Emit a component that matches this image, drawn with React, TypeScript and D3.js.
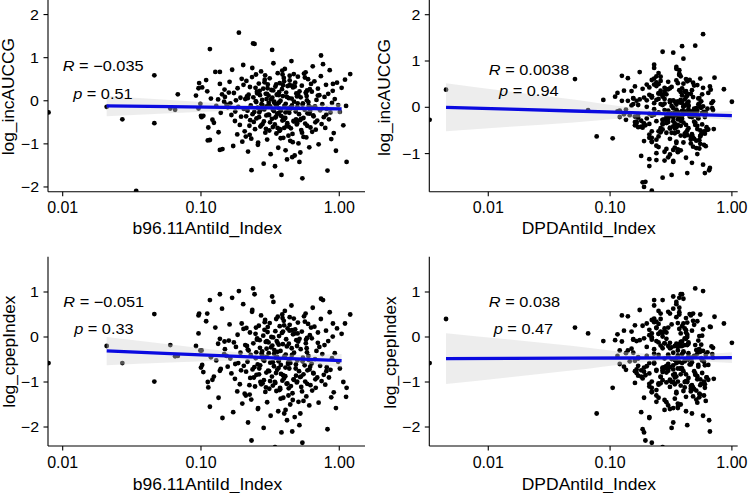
import * as d3 from 'd3'

// per-subject values; the first rows are the outlying subjects
const b96Index = [
  0.0079, 0.0208, 0.027, 0.034, 0.046, 0.046, 0.06, 0.065, 0.068, 0.35,
  0.25, 0.4, 0.3, 0.5, 1.2, 1.13, 1.12, 0.7, 0.9, 0.116,
  0.112, 0.137, 0.137, 0.097, 0.096, 0.1, 0.101,
  0.092, 0.104, 0.109, 0.113, 0.118, 0.096, 0.102, 0.116, 0.099, 0.111,
  0.121, 0.127, 0.129, 0.133, 0.134, 0.137, 0.139, 0.142, 0.143, 0.147,
  0.148, 0.124, 0.331, 0.438, 0.345, 0.149, 0.551, 0.455, 0.156, 0.358,
  0.161, 0.163, 0.166, 0.168, 0.171, 0.173, 0.176, 0.177, 0.179, 0.183,
  0.184, 0.186, 0.188, 0.191, 0.193, 0.195, 0.197, 0.199, 0.153, 0.159,
  0.364, 0.469, 0.374, 0.581, 0.487, 0.392, 0.457, 0.367, 0.585, 0.496,
  0.202, 0.204, 0.207, 0.209, 0.212, 0.213, 0.217, 0.219, 0.221, 0.224,
  0.226, 0.229, 0.231, 0.234, 0.236, 0.239, 0.241, 0.244, 0.246, 0.249,
  0.252, 0.254, 0.257, 0.259, 0.262, 0.264, 0.267, 0.269, 0.272, 0.274,
  0.277, 0.279, 0.282, 0.284, 0.287, 0.289, 0.292, 0.294, 0.297, 0.299,
  0.203, 0.211, 0.218, 0.227, 0.235, 0.243, 0.251, 0.258, 0.266, 0.273,
  0.281, 0.288, 0.295, 0.215, 0.232, 0.248, 0.263, 0.278, 0.291, 0.225,
  0.255, 0.285, 0.238, 0.268, 0.298,
  0.301, 0.304, 0.306, 0.309, 0.312, 0.314, 0.317, 0.319, 0.323, 0.326,
  0.328, 0.331, 0.334, 0.337, 0.339, 0.342, 0.345, 0.347, 0.351, 0.353,
  0.356, 0.359, 0.362, 0.364, 0.367, 0.371, 0.373, 0.376, 0.379, 0.382,
  0.385, 0.388, 0.391, 0.394, 0.397, 0.401, 0.404, 0.407, 0.41, 0.413,
  0.416, 0.419, 0.423, 0.426, 0.429, 0.432, 0.435, 0.438, 0.442, 0.445,
  0.303, 0.316, 0.327, 0.338, 0.349, 0.358, 0.369, 0.378, 0.389, 0.398,
  0.409, 0.418, 0.428, 0.437, 0.447, 0.311, 0.333, 0.355, 0.377, 0.399,
  0.421, 0.443, 0.321, 0.343, 0.365, 0.387, 0.408, 0.431, 0.308, 0.392,
  0.451, 0.455, 0.459, 0.463, 0.467, 0.471, 0.476, 0.48, 0.484, 0.489,
  0.493, 0.498, 0.502, 0.507, 0.512, 0.516, 0.521, 0.526, 0.531, 0.536,
  0.541, 0.546, 0.551, 0.556, 0.562, 0.567, 0.573, 0.578, 0.584, 0.589,
  0.595, 0.601, 0.607, 0.613, 0.619, 0.625, 0.631, 0.637, 0.643, 0.648,
  0.453, 0.469, 0.486, 0.505, 0.523, 0.543, 0.564, 0.586, 0.609, 0.633,
  0.461, 0.495, 0.529, 0.571, 0.616, 0.477, 0.538, 0.598, 0.515, 0.575,
  0.652, 0.661, 0.668, 0.676, 0.684, 0.693, 0.701, 0.709, 0.718, 0.727,
  0.736, 0.745, 0.754, 0.763, 0.773, 0.782, 0.792, 0.802, 0.812, 0.822,
  0.832, 0.842, 0.853, 0.864, 0.875, 0.886, 0.897, 0.672, 0.738, 0.806,
  0.912, 0.928, 0.946, 0.963, 0.982, 1.01, 1.04, 1.07, 1.1,
]

const dpdIndex = [
  0.0033, 0.3, 0.35, 0.25, 0.45, 0.22, 0.5, 0.3, 0.2, 0.0045,
  0.0515, 0.0776, 0.088, 0.066, 0.55, 0.6, 0.42, 1.0, 0.86, 0.27,
  0.33, 0.38, 0.24, 0.31, 0.46, 0.19, 0.36,
  0.34, 0.27, 0.52, 0.41, 0.17, 0.22, 0.64, 0.36, 0.12, 0.48,
  0.31, 0.24, 0.57, 0.44, 0.19, 0.29, 0.38, 0.33, 0.21, 0.69,
  0.39, 0.26, 0.47, 0.35, 0.16, 0.23, 0.61, 0.42, 0.13, 0.55,
  0.32, 0.28, 0.5, 0.37, 0.18, 0.25, 0.71, 0.3, 0.2, 0.46,
  0.43, 0.21, 0.58, 0.34, 0.155, 0.27, 0.4, 0.36, 0.115, 0.53,
  0.38, 0.23, 0.49, 0.31, 0.17, 0.26, 0.66, 0.44, 0.22, 0.59,
  0.35, 0.29, 0.54, 0.41, 0.19, 0.24, 0.37, 0.33, 0.14, 0.47,
  0.42, 0.25, 0.51, 0.3, 0.165, 0.28, 0.62, 0.39, 0.21, 0.56,
  0.33, 0.22, 0.46, 0.36, 0.185, 0.27, 0.7, 0.43, 0.125, 0.52,
  0.4, 0.26, 0.57, 0.32, 0.16, 0.23, 0.35, 0.38, 0.29, 0.49,
  0.37, 0.24, 0.53, 0.44, 0.175, 0.28, 0.63, 0.31, 0.11, 0.6,
  0.34, 0.21, 0.48, 0.39, 0.195, 0.25, 0.42, 0.36, 0.22, 0.55,
  0.41, 0.27, 0.5, 0.33, 0.15, 0.29, 0.67, 0.3, 0.135, 0.46,
  0.36, 0.23, 0.58, 0.43, 0.18, 0.26, 0.38, 0.35, 0.2, 0.51,
  0.32, 0.28, 0.47, 0.4, 0.165, 0.24, 0.72, 0.42, 0.145, 0.54,
  0.39, 0.22, 0.55, 0.34, 0.19, 0.27, 0.31, 0.37, 0.25, 0.48,
  0.44, 0.25, 0.52, 0.3, 0.155, 0.21, 0.65, 0.41, 0.12, 0.59,
  0.35, 0.29, 0.49, 0.38, 0.17, 0.26, 0.43, 0.33, 0.23, 0.57,
  0.31, 0.24, 0.53, 0.42, 0.185, 0.28, 0.68, 0.36, 0.13, 0.46,
  0.4, 0.22, 0.5, 0.34, 0.16, 0.25, 0.39, 0.32, 0.27, 0.56,
  0.37, 0.27, 0.47, 0.44, 0.195, 0.23, 0.61, 0.35, 0.115, 0.52,
  0.33, 0.21, 0.58, 0.39, 0.175, 0.29, 0.41, 0.43, 0.24, 0.49,
  0.42, 0.26, 0.54, 0.31, 0.15, 0.22, 0.7, 0.38, 0.14, 0.6,
  0.36, 0.28, 0.48, 0.4, 0.18, 0.25, 0.34, 0.3, 0.21, 0.55,
  0.3, 0.23, 0.51, 0.37, 0.165, 0.27, 0.64, 0.45, 0.125, 0.47,
  0.41, 0.24, 0.56, 0.33, 0.19, 0.28, 0.38, 0.35, 0.26, 0.53,
  0.38, 0.22, 0.49, 0.43, 0.155, 0.21, 0.66, 0.32, 0.105, 0.58,
  0.34, 0.29, 0.52, 0.36, 0.17, 0.26, 0.42, 0.39, 0.23, 0.5,
  0.43, 0.25, 0.47, 0.31, 0.185, 0.24, 0.62, 0.37, 0.135, 0.54,
  0.35, 0.27, 0.55, 0.4, 0.16, 0.22, 0.44, 0.33, 0.28, 0.59,
  0.36, 0.25, 0.41, 0.2,
]

const logIncAUCCG = [
  -0.27, -0.14, -0.43, -2.09, 0.59, -0.52, -0.18, -0.21, 0.15, 0.38,
  0.61, -0.63, 0.16, -0.06, 0.62, -1.42, -0.12, 0.12, 0.39, 1.2,
  -0.92, 0.67, -1.14, 0.41, 0.29, -0.35, -0.38,
  0.12, -0.35, 0.48, -0.62, 0.05, -0.18, 0.31, -0.91, -0.07, 0.22,
  -0.44, 0.67, -0.12, 0.03, -0.73, 0.39, -0.28, 0.15, -1.12, -0.02,
  0.26, -0.51, -0.21, 0.58, -0.39, 0.09, -0.84, 0.35, -0.15, -0.63,
  0.44, -0.06, -0.33, 0.72, -1.05, 0.18, -0.47, -0.25, 0.01, -0.78,
  0.29, -0.14, 1.58, -0.56, 0.07, -0.37, 0.51, -0.95, -0.09, 0.19,
  -0.29, 0.62, -0.68, 0.11, -0.43, 0.36, -1.31, -0.04, 0.24, -0.52,
  0.83, -0.19, -0.71, 0.04, -0.36, 0.46, -0.23, -1.18, 0.14, -0.58,
  0.32, -0.11, -0.88, 0.55, -0.31, 0.08, -0.49, 1.32, -0.66, -0.01,
  -0.41, 0.21, -0.16, -0.97, 0.4, -0.27, 0.13, -0.6, 0.68, -0.08,
  0.02, -0.54, 0.28, -1.46, -0.2, 0.49, -0.74, 0.16, -0.34, -0.13,
  0.37, -0.83, 0.06, -0.45, 0.76, -0.26, -0.03, -1.02, 0.23, -0.57,
  -0.17, 0.43, -0.65, 0.1, -1.61, 0.3, -0.38, -0.1, 0.59, -0.79,
  0.17, -0.48, 1.33, -0.22, 0.04, -0.9, 0.38, -0.32, -0.05, -0.69,
  0.52, -0.13, -1.24, 0.25, -0.42, 0.07, -0.61, 0.87, -0.24, -0.02,
  -0.55, 0.33, -0.09, -0.76, 0.14, -0.3, 0.64, -1.09, -0.17, 0.2,
  0.41, -0.66, 0.0, -0.35, -1.72, 0.27, -0.46, 0.11, -0.86, 0.53,
  -0.12, 0.74, -0.4, -0.07, 0.19, -0.59, -1.36, 0.34, -0.21, -0.81,
  0.06, -0.28, 0.47, -0.93, -0.15, 0.29, -0.5, 1.18, -0.04, -0.37,
  0.15, -0.7, -0.23, 0.61, -0.44, -1.15, 0.09, -0.18, 0.36, -0.64,
  -0.33, 0.24, -0.08, -0.87, 0.45, -0.52, -0.19, 0.03, -1.52, 0.13,
  0.7, -0.27, -0.6, 0.12, -0.39, 0.92, -0.11, -0.77, 0.31, -0.47,
  -0.02, -1.27, 0.42, -0.25, 0.17, -0.55, -0.14, 0.56, -0.99, -0.31,
  0.22, -0.45, 0.08, -0.68, 0.35, -1.8, -0.06, -0.4, 0.63, -0.21,
  -0.53, 0.18, -0.85, 0.01, -0.29, 0.5, -0.12, -1.08, 0.27, -0.62,
  0.39, -0.16, -0.72, 0.8, -0.34, 0.05, -0.48, -0.2, 0.14, -1.2,
  -0.09, 0.54, -0.58, -0.3, 0.21, -0.96, 0.1, -0.42, 0.66, -0.24,
  0.33, -0.74, -0.03, -1.42, 0.2, -0.36, 0.45, -0.13, -0.67, 0.02,
  -0.46, 0.28, -1.01, 0.13, -0.22, 0.57, -0.54, -0.08, 0.85, -0.38,
  0.09, -0.63, 0.37, -0.19, -1.62, 0.16, -0.43, 0.71, -0.27, -0.89,
  -0.05, 0.23, -0.5, 1.05, -0.32, -0.75, 0.04, -1.16, 0.42, -0.1,
  -0.26, 0.3, -0.57, 0.49,
]

const logCpepIndex = [
  -0.58, -0.2, -0.58, -2.6, 0.51, -0.99, -0.18, -0.43, -0.42, 0.4,
  0.21, -1.7, -0.09, 0.08, 0.5, -1.13, -1.33, -0.13, 0.3, 0.82,
  -1.0, 0.95, -0.75, 0.52, 0.48, -0.68, -0.3,
  -0.2, -0.78, 0.35, -1.12, -0.45, 0.08, -0.62, -1.55, -0.3, 0.52,
  -0.95, 0.21, -0.52, -0.15, -1.35, -0.04, -0.71, 0.63, -1.8, -0.38,
  -0.1, -0.88, -0.56, 0.44, -1.02, -0.27, -1.42, 0.15, -0.66, -0.33,
  0.28, -0.48, -0.81, 0.87, -1.67, -0.12, -0.93, -0.6, -0.22, -1.21,
  0.05, -0.58, 1.02, -1.05, -0.35, -0.74, 0.3, -1.48, -0.42, -0.08,
  -0.69, 0.41, -1.16, -0.25, -0.86, 0.12, -2.1, -0.5, -0.02, -0.99,
  0.73, -0.64, -1.26, -0.18, -0.77, 0.2, -0.55, -1.9, -0.3, -1.07,
  0.1, -0.4, -1.39, 0.56, -0.72, -0.14, -0.9, 0.95, -1.1, -0.47,
  -0.84, -0.06, -0.61, -1.58, 0.25, -0.7, -0.24, -1.0, 0.48, -0.37,
  -0.32, -1.03, 0.03, -2.02, -0.53, 0.33, -1.22, -0.11, -0.79, -0.44,
  0.18, -1.3, -0.28, -0.91, 0.6, -0.67, -0.34, -1.6, -0.07, -1.05,
  -0.5, 0.16, -1.12, -0.2, -2.3, 0.07, -0.83, -0.41, 0.38, -1.28,
  -0.03, -0.96, 1.08, -0.63, -0.26, -1.45, 0.22, -0.75, -0.36, -1.15,
  0.31, -0.57, -1.75, 0.0, -0.88, -0.19, -1.08, 0.78, -0.65, -0.29,
  -1.0, 0.13, -0.46, -1.2, -0.09, -0.73, 0.45, -1.65, -0.54, 0.02,
  0.24, -1.13, -0.31, -0.82, -2.12, 0.09, -0.97, -0.16, -1.35, 0.36,
  -0.43, 0.58, -0.87, -0.39, -0.05, -1.04, -1.85, 0.19, -0.6, -1.3,
  -0.15, -0.7, 0.27, -1.5, -0.48, 0.11, -0.98, 0.9, -0.37, -0.8,
  -0.13, -1.18, -0.62, 0.42, -0.92, -1.62, -0.21, -0.56, 0.14, -1.09,
  -0.76, -0.01, -0.44, -1.37, 0.26, -1.03, -0.58, -0.23, -2.45, -0.17,
  0.5, -0.68, -1.14, -0.12, -0.85, 0.7, -0.4, -1.25, 0.06, -0.94,
  -0.35, -1.78, 0.17, -0.7, -0.07, -1.01, -0.52, 0.32, -1.44, -0.76,
  -0.04, -0.89, -0.27, -1.11, 0.12, -2.35, -0.46, -0.83, 0.46, -0.63,
  -0.99, -0.14, -1.32, -0.34, -0.74, 0.29, -0.51, -1.52, 0.04, -1.07,
  0.21, -0.59, -1.19, 0.65, -0.8, -0.25, -0.95, -0.61, -0.1, -1.7,
  -0.54, 0.34, -1.04, -0.72, -0.03, -1.4, -0.2, -0.88, 0.52, -0.66,
  0.08, -1.21, -0.42, -1.96, -0.06, -0.81, 0.23, -0.49, -1.13, -0.31,
  -0.9, 0.1, -1.46, -0.22, -0.64, 0.4, -0.98, -0.38, 0.82, -0.84,
  -0.18, -1.06, 0.14, -0.67, -2.05, -0.09, -0.9, 0.55, -0.73, -1.34,
  -0.47, 0.01, -0.94, 0.85, -0.76, -1.23, -0.36, -1.58, 0.19, -0.55,
  -0.7, 0.07, -1.0, 0.3,
]

type FitPt = { x: number; fit: number; lo: number; hi: number }

// fitted line and 95% band
const fitIncB96: FitPt[] = [
  { x: 0.0208, fit: -0.12, lo: -0.36, hi: 0.11 },
  { x: 0.06, fit: -0.136, lo: -0.29, hi: 0.015 },
  { x: 0.15, fit: -0.153, lo: -0.24, hi: -0.068 },
  { x: 0.3, fit: -0.166, lo: -0.218, hi: -0.114 },
  { x: 0.6, fit: -0.179, lo: -0.26, hi: -0.1 },
  { x: 1.04, fit: -0.19, lo: -0.31, hi: -0.07 },
]
const fitIncDpd: FitPt[] = [
  { x: 0.0045, fit: 0, lo: -0.52, hi: 0.52 },
  { x: 0.015, fit: -0.04, lo: -0.42, hi: 0.34 },
  { x: 0.05, fit: -0.08, lo: -0.33, hi: 0.17 },
  { x: 0.15, fit: -0.117, lo: -0.227, hi: -0.007 },
  { x: 0.3, fit: -0.14, lo: -0.195, hi: -0.085 },
  { x: 0.6, fit: -0.163, lo: -0.233, hi: -0.093 },
  { x: 1.0, fit: -0.18, lo: -0.28, hi: -0.08 },
]
const fitCpepB96: FitPt[] = [
  { x: 0.0208, fit: -0.31, lo: -0.63, hi: 0.0 },
  { x: 0.06, fit: -0.368, lo: -0.568, hi: -0.168 },
  { x: 0.15, fit: -0.419, lo: -0.529, hi: -0.309 },
  { x: 0.3, fit: -0.457, lo: -0.527, hi: -0.387 },
  { x: 0.6, fit: -0.495, lo: -0.595, hi: -0.395 },
  { x: 1.04, fit: -0.525, lo: -0.675, hi: -0.375 },
]
const fitCpepDpd: FitPt[] = [
  { x: 0.0045, fit: -0.48, lo: -1.045, hi: 0.085 },
  { x: 0.015, fit: -0.476, lo: -0.896, hi: -0.056 },
  { x: 0.05, fit: -0.471, lo: -0.741, hi: -0.201 },
  { x: 0.15, fit: -0.467, lo: -0.587, hi: -0.347 },
  { x: 0.3, fit: -0.464, lo: -0.529, hi: -0.399 },
  { x: 0.6, fit: -0.462, lo: -0.547, hi: -0.377 },
  { x: 1.0, fit: -0.46, lo: -0.58, hi: -0.34 },
]

const xTicks = [0.01, 0.1, 1]
const FONT = '"Liberation Sans", Arial, Helvetica, sans-serif'

interface PanelSpec {
  id: string
  xs: number[]
  ys: number[]
  fit: FitPt[]
  box: { left: number; right: number; top: number; bottom: number }
  xDomain: [number, number]
  yDomain: [number, number]
  yTicks: number[]
  xTitle: string
  yTitle: string
  xTitleAt: [number, number]
  yTitleAt: [number, number]
  r: string
  p: string
  rAt: [number, number]
  pAt: [number, number]
}

const panels: PanelSpec[] = [
  {
    id: 'tl', xs: b96Index, ys: logIncAUCCG, fit: fitIncB96,
    box: { left: 48, right: 365, top: 1, bottom: 191.7 },
    xDomain: [0.00783, 1.535], yDomain: [-2.11, 2.315], yTicks: [-2, -1, 0, 1, 2],
    xTitle: 'b96.11AntiId_Index', yTitle: 'log_incAUCCG',
    xTitleAt: [207.3, 233.5], yTitleAt: [14.2, 96.7],
    r: '−0.035', p: '0.51', rAt: [0.01, 0.7], pAt: [0.0119, 0.046],
  },
  {
    id: 'tr', xs: dpdIndex, ys: logIncAUCCG, fit: fitIncDpd,
    box: { left: 429.3, right: 737.7, top: 1, bottom: 191.7 },
    xDomain: [0.00328, 1.116], yDomain: [-1.823, 2.296], yTicks: [-1, 0, 1, 2],
    xTitle: 'DPDAntiId_Index', yTitle: 'log_incAUCCG',
    xTitleAt: [588.7, 233.5], yTitleAt: [390, 97.5],
    r: '0.0038', p: '0.94', rAt: [0.0101, 0.7], pAt: [0.01225, 0.25],
  },
  {
    id: 'bl', xs: b96Index, ys: logCpepIndex, fit: fitCpepB96,
    box: { left: 48, right: 365, top: 257.7, bottom: 446 },
    xDomain: [0.00783, 1.535], yDomain: [-2.422, 1.762], yTicks: [-2, -1, 0, 1],
    xTitle: 'b96.11AntiId_Index', yTitle: 'log_cpepIndex',
    xTitleAt: [207.5, 489.5], yTitleAt: [15, 351.7],
    r: '−0.051', p: '0.33', rAt: [0.0101, 0.673], pAt: [0.0121, 0.06],
  },
  {
    id: 'br', xs: dpdIndex, ys: logCpepIndex, fit: fitCpepDpd,
    box: { left: 429.3, right: 737.7, top: 257.7, bottom: 446 },
    xDomain: [0.00328, 1.116], yDomain: [-2.422, 1.762], yTicks: [-2, -1, 0, 1],
    xTitle: 'DPDAntiId_Index', yTitle: 'log_cpepIndex',
    xTitleAt: [588.8, 489.5], yTitleAt: [395.5, 352.5],
    r: '0.038', p: '0.47', rAt: [0.0101, 0.673], pAt: [0.01107, 0.06],
  },
]

// text is placed with a translate and stretched along its baseline
const txt = (tx: number, ty: number, sx: number, rot = 0) =>
  `translate(${tx},${ty})${rot ? ` rotate(${rot})` : ''} scale(${sx},1)`

const yFmt = (t: number) => (t < 0 ? '−' + Math.abs(t) : String(t))

function Panel({ s }: { s: PanelSpec }) {
  const { left, right, top, bottom } = s.box
  const x = d3.scaleLog().domain(s.xDomain).range([left, right])
  const y = d3.scaleLinear().domain(s.yDomain).range([bottom, top])
  const n = Math.min(s.xs.length, s.ys.length)
  const pts = d3.range(n).map(i => [s.xs[i], s.ys[i]] as [number, number])

  const band = d3.area<FitPt>()
    .x(d => x(d.x)).y0(d => y(d.lo)).y1(d => y(d.hi))
    .curve(d3.curveMonotoneX)
  const line = d3.line<FitPt>().x(d => x(d.x)).y(d => y(d.fit))

  return (
    <g>
      <defs>
        <clipPath id={`clip-${s.id}`}>
          <rect x={left} y={top} width={right - left} height={bottom - top} />
        </clipPath>
      </defs>
      <g clipPath={`url(#clip-${s.id})`}>
        {pts.map((d, i) => (
          <circle key={i} cx={x(d[0])} cy={y(d[1])} r={2.4} fill="#000" />
        ))}
        <path d={band(s.fit) ?? ''} fill="#d2d2d2" fillOpacity={0.4} />
        <path d={line(s.fit) ?? ''} fill="none" stroke="#0a0ae0" strokeWidth={3.3} />
      </g>

      <line x1={left} x2={left} y1={top - 1} y2={bottom} stroke="#000" strokeWidth={1.1} />
      <line x1={left} x2={right} y1={bottom} y2={bottom} stroke="#000" strokeWidth={1.1} />

      {xTicks.map(t => (
        <g key={t}>
          <line x1={x(t)} x2={x(t)} y1={bottom} y2={bottom + 4.5} stroke="#000" strokeWidth={1.1} />
          <text transform={txt(x(t), bottom + 21.6, 1.0)} textAnchor="middle" fontSize={16} fill="#000">
            {d3.format('.2f')(t)}
          </text>
        </g>
      ))}
      {s.yTicks.map(t => (
        <g key={t}>
          <line x1={left - 4.5} x2={left} y1={y(t)} y2={y(t)} stroke="#000" strokeWidth={1.1} />
          <text transform={txt(left - 9, y(t) + 5.2, 1.1)} textAnchor="end" fontSize={14.5} fill="#000">
            {yFmt(t)}
          </text>
        </g>
      ))}

      <text transform={txt(s.xTitleAt[0], s.xTitleAt[1], 1.06)} textAnchor="middle" fontSize={16.5} fill="#000">
        {s.xTitle}
      </text>
      <text transform={txt(s.yTitleAt[0], s.yTitleAt[1], 1.08, -90)} textAnchor="middle" fontSize={16} fill="#000">
        {s.yTitle}
      </text>

      <text transform={txt(x(s.rAt[0]), y(s.rAt[1]), 1.12)} fontSize={14.6} fill="#000">
        <tspan fontStyle="italic">R</tspan>
        {' = ' + s.r}
      </text>
      <text transform={txt(x(s.pAt[0]), y(s.pAt[1]), 1.12)} fontSize={14.6} fill="#000">
        <tspan fontStyle="italic">p</tspan>
        {' = ' + s.p}
      </text>
    </g>
  )
}

export default function App() {
  return (
    <svg
      width={750}
      height={493}
      style={{ position: 'absolute', left: 0, top: 0, background: '#fff' }}
      fontFamily={FONT}
    >
      <rect width={750} height={493} fill="#fff" />
      {panels.map(s => <Panel key={s.id} s={s} />)}
    </svg>
  )
}
